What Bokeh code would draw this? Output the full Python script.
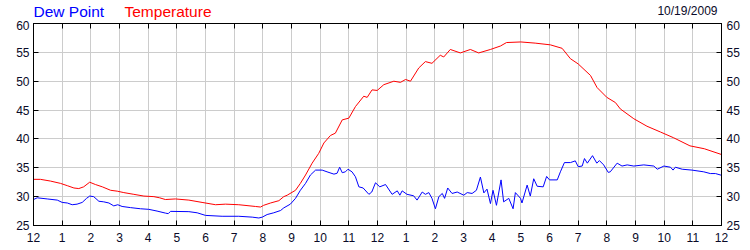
from bokeh.plotting import figure
from bokeh.models import LinearAxis, FixedTicker, Range1d
from bokeh.layouts import column
from bokeh.core.properties import value
from bokeh.embed import file_html
from bokeh.resources import INLINE

# ---- data (hours after midnight, degrees F) ----
temp_hours = [0.0, 0.24, 0.59, 0.94, 1.18, 1.41, 1.58, 1.75, 1.96, 2.16, 2.4, 2.69, 2.92, 3.15,
              3.5, 3.85, 4.2, 4.4, 4.6, 4.95, 5.42, 5.88, 6.35, 6.7, 7.16, 7.74, 7.92, 8.03,
              8.27, 8.56, 8.73, 8.85, 9.14, 9.31, 9.49, 9.72, 9.95, 10.13, 10.36, 10.53, 10.77,
              11.0, 11.23, 11.52, 11.64, 11.81, 11.99, 12.22, 12.57, 12.8, 12.98, 13.15, 13.44,
              13.67, 13.9, 14.19, 14.31, 14.54, 14.89, 15.24, 15.53, 15.94, 16.29, 16.5, 17.0,
              17.5, 18.03, 18.44, 18.73, 19.0, 19.43, 19.66, 20.0, 20.3, 20.47, 20.94, 21.4,
              21.87, 22.33, 22.9, 23.4, 24.0]
temperature = [33.0, 33.0, 32.7, 32.3, 31.9, 31.5, 31.4, 31.7, 32.5, 32.1, 31.7, 31.1, 30.95, 30.7,
               30.4, 30.1, 30.0, 29.8, 29.5, 29.6, 29.4, 29.0, 28.6, 28.7, 28.6, 28.3, 28.2, 28.5,
               28.9, 29.3, 30.0, 30.25, 31.1, 32.3, 33.75, 35.8, 37.5, 39.3, 40.6, 41.0, 43.3,
               43.6, 45.6, 47.4, 47.2, 48.5, 48.4, 49.4, 50.0, 49.8, 50.3, 50.0, 52.3,
               53.4, 53.1, 54.5, 54.2, 55.5, 54.9, 55.5, 54.9, 55.5, 56.1, 56.7, 56.8,
               56.6, 56.3, 55.7, 53.9, 53.0, 51.0, 48.9, 47.2, 46.3, 45.2, 43.5, 42.2,
               41.2, 40.2, 38.8, 38.3, 37.3]

dew_hours = [0.0, 0.13, 0.48, 0.83, 1.0, 1.18, 1.35, 1.52, 1.7, 1.85, 1.96, 2.1, 2.28, 2.45, 2.63,
             2.8, 2.94, 3.09, 3.38, 3.73, 4.02, 4.31, 4.6, 4.7, 4.78, 5.42, 5.71, 6.0, 6.58, 7.16,
             7.63, 7.86, 7.98, 8.15, 8.38, 8.62, 8.73, 8.96, 9.14, 9.31, 9.49, 9.66, 9.84, 10.07,
             10.24, 10.48, 10.59, 10.68, 10.77, 10.88, 10.97, 11.11, 11.23, 11.35, 11.5, 11.7,
             11.8, 11.93, 12.08, 12.28, 12.51, 12.69, 12.78, 12.86, 13.03, 13.26, 13.38, 13.56,
             13.67, 13.79, 13.9, 14.02, 14.14, 14.26, 14.34, 14.45, 14.6, 14.78, 15.01, 15.13,
             15.3, 15.45, 15.59, 15.71, 15.82, 15.94, 16.03, 16.15, 16.31, 16.4, 16.58, 16.73,
             16.81, 16.99, 17.04, 17.22, 17.33, 17.45, 17.57, 17.78, 17.9, 18.0, 18.27, 18.38,
             18.52, 18.73, 18.9, 19.0, 19.14, 19.22, 19.32, 19.5, 19.65, 19.74, 19.89, 20.05,
             20.12, 20.36, 20.53, 20.71, 20.94, 21.29, 21.64, 21.76, 21.99, 22.22, 22.31, 22.39,
             22.63, 22.97, 23.38, 23.61, 23.79, 24.0]
dew_point = [29.5, 29.8, 29.6, 29.4, 29.0, 28.9, 28.6, 28.7, 29.0, 29.7, 30.1, 30.0, 29.2, 29.1, 28.9,
             28.4, 28.6, 28.3, 28.1, 27.9, 27.8, 27.5, 27.15, 27.05, 27.45, 27.4, 27.2, 26.75, 26.6, 26.6,
             26.45, 26.3, 26.45, 26.9, 27.2, 27.6, 28.05, 28.7, 29.7, 31.1, 32.3, 33.75, 34.6, 34.6,
             34.3, 33.9, 34.05, 35.1, 34.15, 34.3, 34.75, 34.3, 33.45, 31.7, 31.5, 30.4,
             30.8, 32.4, 31.7, 32.1, 30.4, 31.0, 30.25, 31.0, 30.4, 30.15, 29.4, 30.8,
             30.4, 30.7, 29.7, 27.9, 30.0, 30.55, 29.7, 31.5, 30.55, 30.8, 30.25, 30.7,
             30.55, 31.1, 33.4, 30.65, 31.3, 28.8, 31.1, 28.5, 32.9, 29.1, 29.7, 27.9,
             30.7, 29.7, 28.9, 32.0, 30.1, 33.1, 31.8, 31.7, 33.5, 32.9, 32.9, 34.3,
             35.9, 35.9, 36.2, 35.2, 35.3, 36.6, 35.8, 37.1, 35.8, 36.25, 35.5, 34.2,
             34.3, 35.8, 35.3, 35.5, 35.3, 35.5, 35.3, 34.75, 35.3, 35.1, 34.6, 35.1,
             34.75, 34.6, 34.3, 34.0, 34.0, 33.7]

hour_ticks = list(range(25))
hour_labels = ["12", "1", "2", "3", "4", "5", "6", "7", "8", "9", "10", "11",
               "12", "1", "2", "3", "4", "5", "6", "7", "8", "9", "10", "11", "12"]
y_ticks = [25, 30, 35, 40, 45, 50, 55, 60]
series_names = ["Dew Point", "Temperature"]
date_text = "10/19/2009"

FONT = "Liberation Sans"
TXT = "#0a0a28"

# ---- header strip (its frame is aligned with the chart frame; x in page pixels) ----
header = figure(width=750, height=20, output_backend="svg", toolbar_location=None, title=None,
                x_range=Range1d(33, 721), y_range=Range1d(0, 20),
                min_border=0, min_border_left=33, min_border_right=29,
                x_axis_location=None, y_axis_location=None)
header.grid.visible = False
header.outline_line_color = None
header.background_fill_color = "white"
header.border_fill_color = "white"
header.text(x=[33], y=[9], text=[series_names[0]], text_font=value(FONT),
            text_font_size="15.5px", text_color="#0000ff", text_baseline="alphabetic")
header.text(x=[124], y=[9], text=[series_names[1]], text_font=value(FONT),
            text_font_size="15.5px", text_color="#ff0000", text_baseline="alphabetic")
header.text(x=[717], y=[10], text=[date_text], text_font=value(FONT),
            text_font_size="12px", text_color=TXT, text_align="right", text_baseline="alphabetic")

# ---- main chart ----
p = figure(width=750, height=230, output_backend="svg", toolbar_location=None, title=None,
           x_range=Range1d(0, 24), y_range=Range1d(25, 60),
           min_border_left=33, min_border_right=29, min_border_top=3, min_border_bottom=25,
           y_axis_location=None, x_axis_location=None)
p.background_fill_color = "white"
p.border_fill_color = "white"
p.outline_line_color = "black"
p.outline_line_width = 1


def style_axis(ax):
    ax.axis_line_color = "black"
    ax.major_tick_line_color = "black"
    ax.major_tick_in = 5
    ax.major_tick_out = 0
    ax.minor_tick_line_color = None
    ax.major_label_text_font = FONT
    ax.major_label_text_font_size = "12px"
    ax.major_label_text_color = TXT
    ax.major_label_standoff = 4


xt = FixedTicker(ticks=hour_ticks)
yt = FixedTicker(ticks=y_ticks)
overrides = {t: lab for t, lab in zip(hour_ticks, hour_labels)}

bottom = LinearAxis(ticker=xt, major_label_overrides=overrides)
style_axis(bottom)
bottom.major_label_standoff = 7
p.add_layout(bottom, "below")

top = LinearAxis(ticker=xt)
style_axis(top)
top.major_label_text_color = None
top.major_label_text_font_size = "1px"
top.major_label_standoff = 0
p.add_layout(top, "above")

left = LinearAxis(ticker=yt)
style_axis(left)
p.add_layout(left, "left")

right = LinearAxis(ticker=yt)
style_axis(right)
right.major_label_standoff = 5
p.add_layout(right, "right")

p.xgrid.ticker = xt
p.ygrid.ticker = yt
p.xgrid.grid_line_color = "#cccccc"
p.ygrid.grid_line_color = "#cccccc"

p.line(temp_hours, temperature, line_color="#ff0000", line_width=1)
p.line(dew_hours, dew_point, line_color="#0000ff", line_width=1)

page = column(header, p, spacing=0)
open("out.html", "w").write(file_html(page, INLINE))
